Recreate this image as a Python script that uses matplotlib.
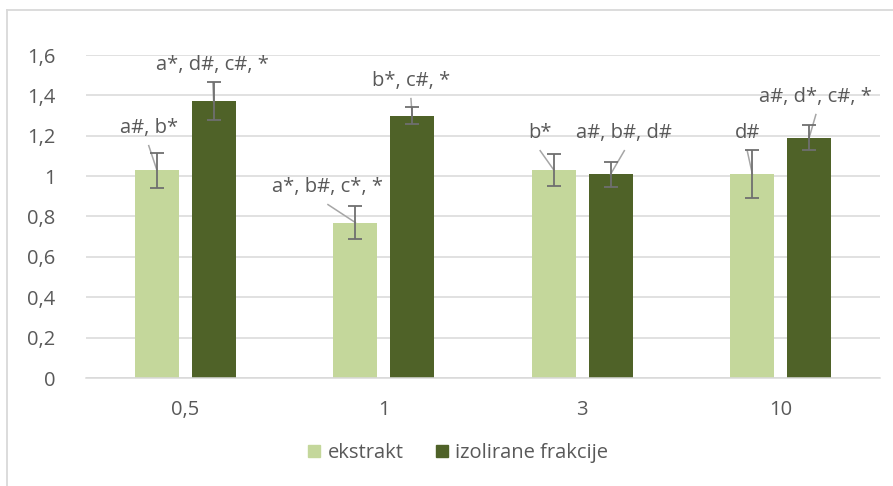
import numpy as np
import matplotlib.pyplot as plt
from matplotlib.lines import Line2D
from matplotlib.patches import Patch

plt.rcParams["font.family"] = ["Open Sans", "DejaVu Sans"]

# 数据
kategorije = ["0,5", "1", "3", "10"]
ekstrakt = [1.03, 0.77, 1.03, 1.01]
ekstrakt_err = [0.087, 0.08, 0.08, 0.12]
frakcije = [1.37, 1.30, 1.01, 1.19]
frakcije_err = [0.094, 0.042, 0.062, 0.062]
oznake_ekstrakt = ["a#, b*", "a*, b#, c*, *", "b*", "d#"]
oznake_frakcije = ["a*, d#, c#, *", "b*, c#, *", "a#, b#, d#", "a#, d*, c#, *"]

# 标签位置 (x, y)
poz_ekstrakt = [(-0.184, 1.238), (0.719, 0.946), (1.788, 1.213), (2.831, 1.213)]
poz_frakcije = [(0.139, 1.55), (1.137, 1.471), (2.212, 1.213), (3.177, 1.392)]

svijetla = "#C4D79B"
tamna = "#4F6228"
siva = "#595959"
fs = 14.5

fig = plt.figure(figsize=(8.93, 4.86), dpi=100)
ax = fig.add_axes([86 / 893, 1 - 378 / 486, (880 - 86) / 893, (378 - 55) / 486])

x = np.arange(len(kategorije))
w = 0.221
off = 0.143
ax.bar(x - off, ekstrakt, w, color=svijetla, zorder=2, label="ekstrakt")
ax.bar(x + off, frakcije, w, color=tamna, zorder=2, label="izolirane frakcije")
ax.errorbar(x - off, ekstrakt, yerr=ekstrakt_err, fmt="none", ecolor="#6f6f6f",
            elinewidth=1.3, capsize=5, capthick=1.3, zorder=4)
ax.errorbar(x + off, frakcije, yerr=frakcije_err, fmt="none", ecolor="#6f6f6f",
            elinewidth=1.3, capsize=5, capthick=1.3, zorder=4)

# 数据标签和引导线
for xs, vals, labs, poz in [(x - off, ekstrakt, oznake_ekstrakt, poz_ekstrakt),
                            (x + off, frakcije, oznake_frakcije, poz_frakcije)]:
    for xb, v, t, (lx, ly) in zip(xs, vals, labs, poz):
        ax.text(lx, ly, t, ha="center", va="center", fontsize=fs, color=siva, zorder=5)
        ax.plot([lx, xb], [ly - 0.087, v], color="#a6a6a6", lw=1.1, zorder=3)

ax.set_xlim(-0.5, 3.5)
ax.set_ylim(0, 1.6)
ax.set_yticks(np.arange(0, 1.61, 0.2))
ax.set_yticklabels(["0", "0,2", "0,4", "0,6", "0,8", "1", "1,2", "1,4", "1,6"])
ax.set_xticks(x)
ax.set_xticklabels(kategorije)
ax.tick_params(axis="both", length=0, labelsize=fs, labelcolor=siva)
ax.tick_params(axis="y", pad=22)
ax.tick_params(axis="x", pad=16)
ax.grid(axis="y", color="#d9d9d9", lw=1.1, zorder=0)
for s in ["top", "right", "left"]:
    ax.spines[s].set_visible(False)
ax.spines["bottom"].set_color("#d9d9d9")
ax.spines["bottom"].set_linewidth(1.1)

handles = [Patch(color=svijetla), Patch(color=tamna)]
fig.legend(handles, ["ekstrakt", "izolirane frakcije"], loc="center",
           bbox_to_anchor=(0.513, 1 - 453 / 486), ncol=2, frameon=False,
           fontsize=fs, labelcolor=siva, handlelength=0.6, handleheight=0.6,
           handletextpad=0.35, columnspacing=1.6)

# 图表边框
fig.add_artist(Line2D([7 / 893, 7 / 893], [0, 1 - 10 / 486], color="#d9d9d9", lw=1.3))
fig.add_artist(Line2D([7 / 893, 1], [1 - 10 / 486, 1 - 10 / 486], color="#d9d9d9", lw=1.3))

fig.savefig("out.png", dpi=100)
